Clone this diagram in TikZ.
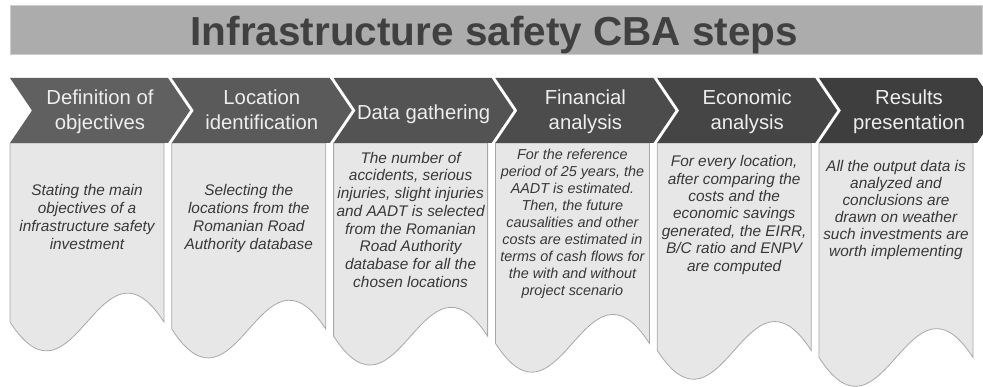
\documentclass[tikz,border=0pt]{standalone}
\usepackage{fontspec}
\setmainfont{Liberation Sans}
\definecolor{barfill}{RGB}{172,172,172}
\definecolor{baredge}{RGB}{205,205,205}
\definecolor{bartext}{RGB}{64,64,64}
\definecolor{stepA}{RGB}{96,96,96}
\definecolor{stepB}{RGB}{90,90,90}
\definecolor{stepC}{RGB}{83,83,83}
\definecolor{stepD}{RGB}{76,76,76}
\definecolor{stepE}{RGB}{69,69,69}
\definecolor{stepF}{RGB}{62,62,62}
\definecolor{headtext}{RGB}{238,238,238}
\definecolor{cardfill}{RGB}{231,231,231}
\definecolor{cardedge}{RGB}{168,168,168}
\definecolor{cardtext}{RGB}{56,56,56}

\begin{document}
\begin{tikzpicture}[
  x=1pt, y=-1pt,
  every node/.style={inner sep=0pt},
  %% Title
  titlebar/.style={
    fill=barfill, draw=baredge, line width=0.8pt,
    minimum width=972pt, minimum height=49pt,
  },
  titletext/.style={
    font=\fontsize{40.5}{48}\selectfont\bfseries, text=bartext,
  },
  %% Step headers and cards
  head/.style={
    font=\fontsize{20.3}{25.5}\selectfont, text=headtext, align=center,
    execute at begin node=\strut, execute at end node=\strut,
  },
  card/.style={fill=cardfill, draw=cardedge, line width=0.8pt},
  desc/.style={
    font=\fontsize{15.4}{#1}\selectfont\itshape, text=cardtext,
    align=center,
    execute at begin node=\strut, execute at end node=\strut,
  },
  desc/.default=17.5,
]
\clip (0,0) rectangle (983,387);

%% =============================================================
%%  Title bar
%% =============================================================
\node[titlebar] (bar) at (496,29.5) {};
\node[titletext, anchor=base] (title) at (494.5,45.7)
    {Infrastructure safety CBA steps};

%% =============================================================
%%  Cards with wavy bottom (drawn first, headers go on top)
%% =============================================================
\filldraw[card] (10,143) -- (10,322)
    .. controls +(64.7,100) and +(-64.7,-100) .. (164,322) -- (164,143) -- cycle;
\filldraw[card] (171.8,143) -- (171.8,329.1)
    .. controls +(64.7,100) and +(-64.7,-100) .. (325.8,329.1) -- (325.8,143) -- cycle;
\filldraw[card] (333.6,143) -- (333.6,336.2)
    .. controls +(64.7,100) and +(-64.7,-100) .. (487.6,336.2) -- (487.6,143) -- cycle;
\filldraw[card] (495.4,143) -- (495.4,343.3)
    .. controls +(64.7,100) and +(-64.7,-100) .. (649.4,343.3) -- (649.4,143) -- cycle;
\filldraw[card] (657.2,143) -- (657.2,350.4)
    .. controls +(64.7,100) and +(-64.7,-100) .. (811.2,350.4) -- (811.2,143) -- cycle;
\filldraw[card] (819,143) -- (819,357.5)
    .. controls +(64.7,100) and +(-64.7,-100) .. (973,357.5) -- (973,143) -- cycle;

%% =============================================================
%%  Chevron headers
%% =============================================================
\fill[stepA] (10,143) -- ++(22,-32.5) -- ++(-22,-32.5) -- ++(158,0)
    -- ++(22,32.5) -- ++(-22,32.5) -- cycle;
\fill[stepB] (171.8,143) -- ++(22,-32.5) -- ++(-22,-32.5) -- ++(158,0)
    -- ++(22,32.5) -- ++(-22,32.5) -- cycle;
\fill[stepC] (333.6,143) -- ++(22,-32.5) -- ++(-22,-32.5) -- ++(158,0)
    -- ++(22,32.5) -- ++(-22,32.5) -- cycle;
\fill[stepD] (495.4,143) -- ++(22,-32.5) -- ++(-22,-32.5) -- ++(158,0)
    -- ++(22,32.5) -- ++(-22,32.5) -- cycle;
\fill[stepE] (657.2,143) -- ++(22,-32.5) -- ++(-22,-32.5) -- ++(158,0)
    -- ++(22,32.5) -- ++(-22,32.5) -- cycle;
\fill[stepF] (819,143) -- ++(22,-32.5) -- ++(-22,-32.5) -- ++(158,0)
    -- ++(22,32.5) -- ++(-22,32.5) -- cycle;

\node[head] (h1) at (100,113.65)   {Definition of\\objectives};
\node[head] (h2) at (261.8,113.65) {Location\\identification};
\node[head] (h3) at (423.6,114.2)  {Data gathering};
\node[head] (h4) at (585.4,113.65) {Financial\\analysis};
\node[head] (h5) at (747.2,113.65) {Economic\\analysis};
\node[head] (h6) at (909,113.65)   {Results\\presentation};

%% =============================================================
%%  Card texts
%% =============================================================
\node[desc=18] (d1) at (87,219.4)
    {Stating the main\\objectives of a\\infrastructure safety\\investment};
\node[desc=18] (d2) at (248.8,219.4)
    {Selecting the\\locations from the\\Romanian Road\\Authority database};
\node[desc=17.7] (d3) at (410.6,222.3)
    {The number of\\accidents, serious\\injuries, slight injuries\\and AADT is selected\\
     from the Romanian\\Road Authority\\database for all the\\chosen locations};
\node[desc, font=\fontsize{14.4}{17}\selectfont\itshape] (d4) at (572.4,225.3)
    {For the reference\\period of 25 years, the\\AADT is estimated.\\Then, the future\\
     causalities and other\\costs are estimated in\\terms of cash flows for\\
     the with and without\\project scenario};
\node[desc=17.4] (d5) at (734.2,216)
    {For every location,\\after comparing the\\costs and the\\economic savings\\
     generated, the EIRR,\\B/C ratio and ENPV\\are computed};
\node[desc=17.1] (d6) at (896,211.1)
    {All the output data is\\analyzed and\\conclusions are\\drawn on weather\\
     such investments are\\worth implementing};

\end{tikzpicture}
\end{document}
